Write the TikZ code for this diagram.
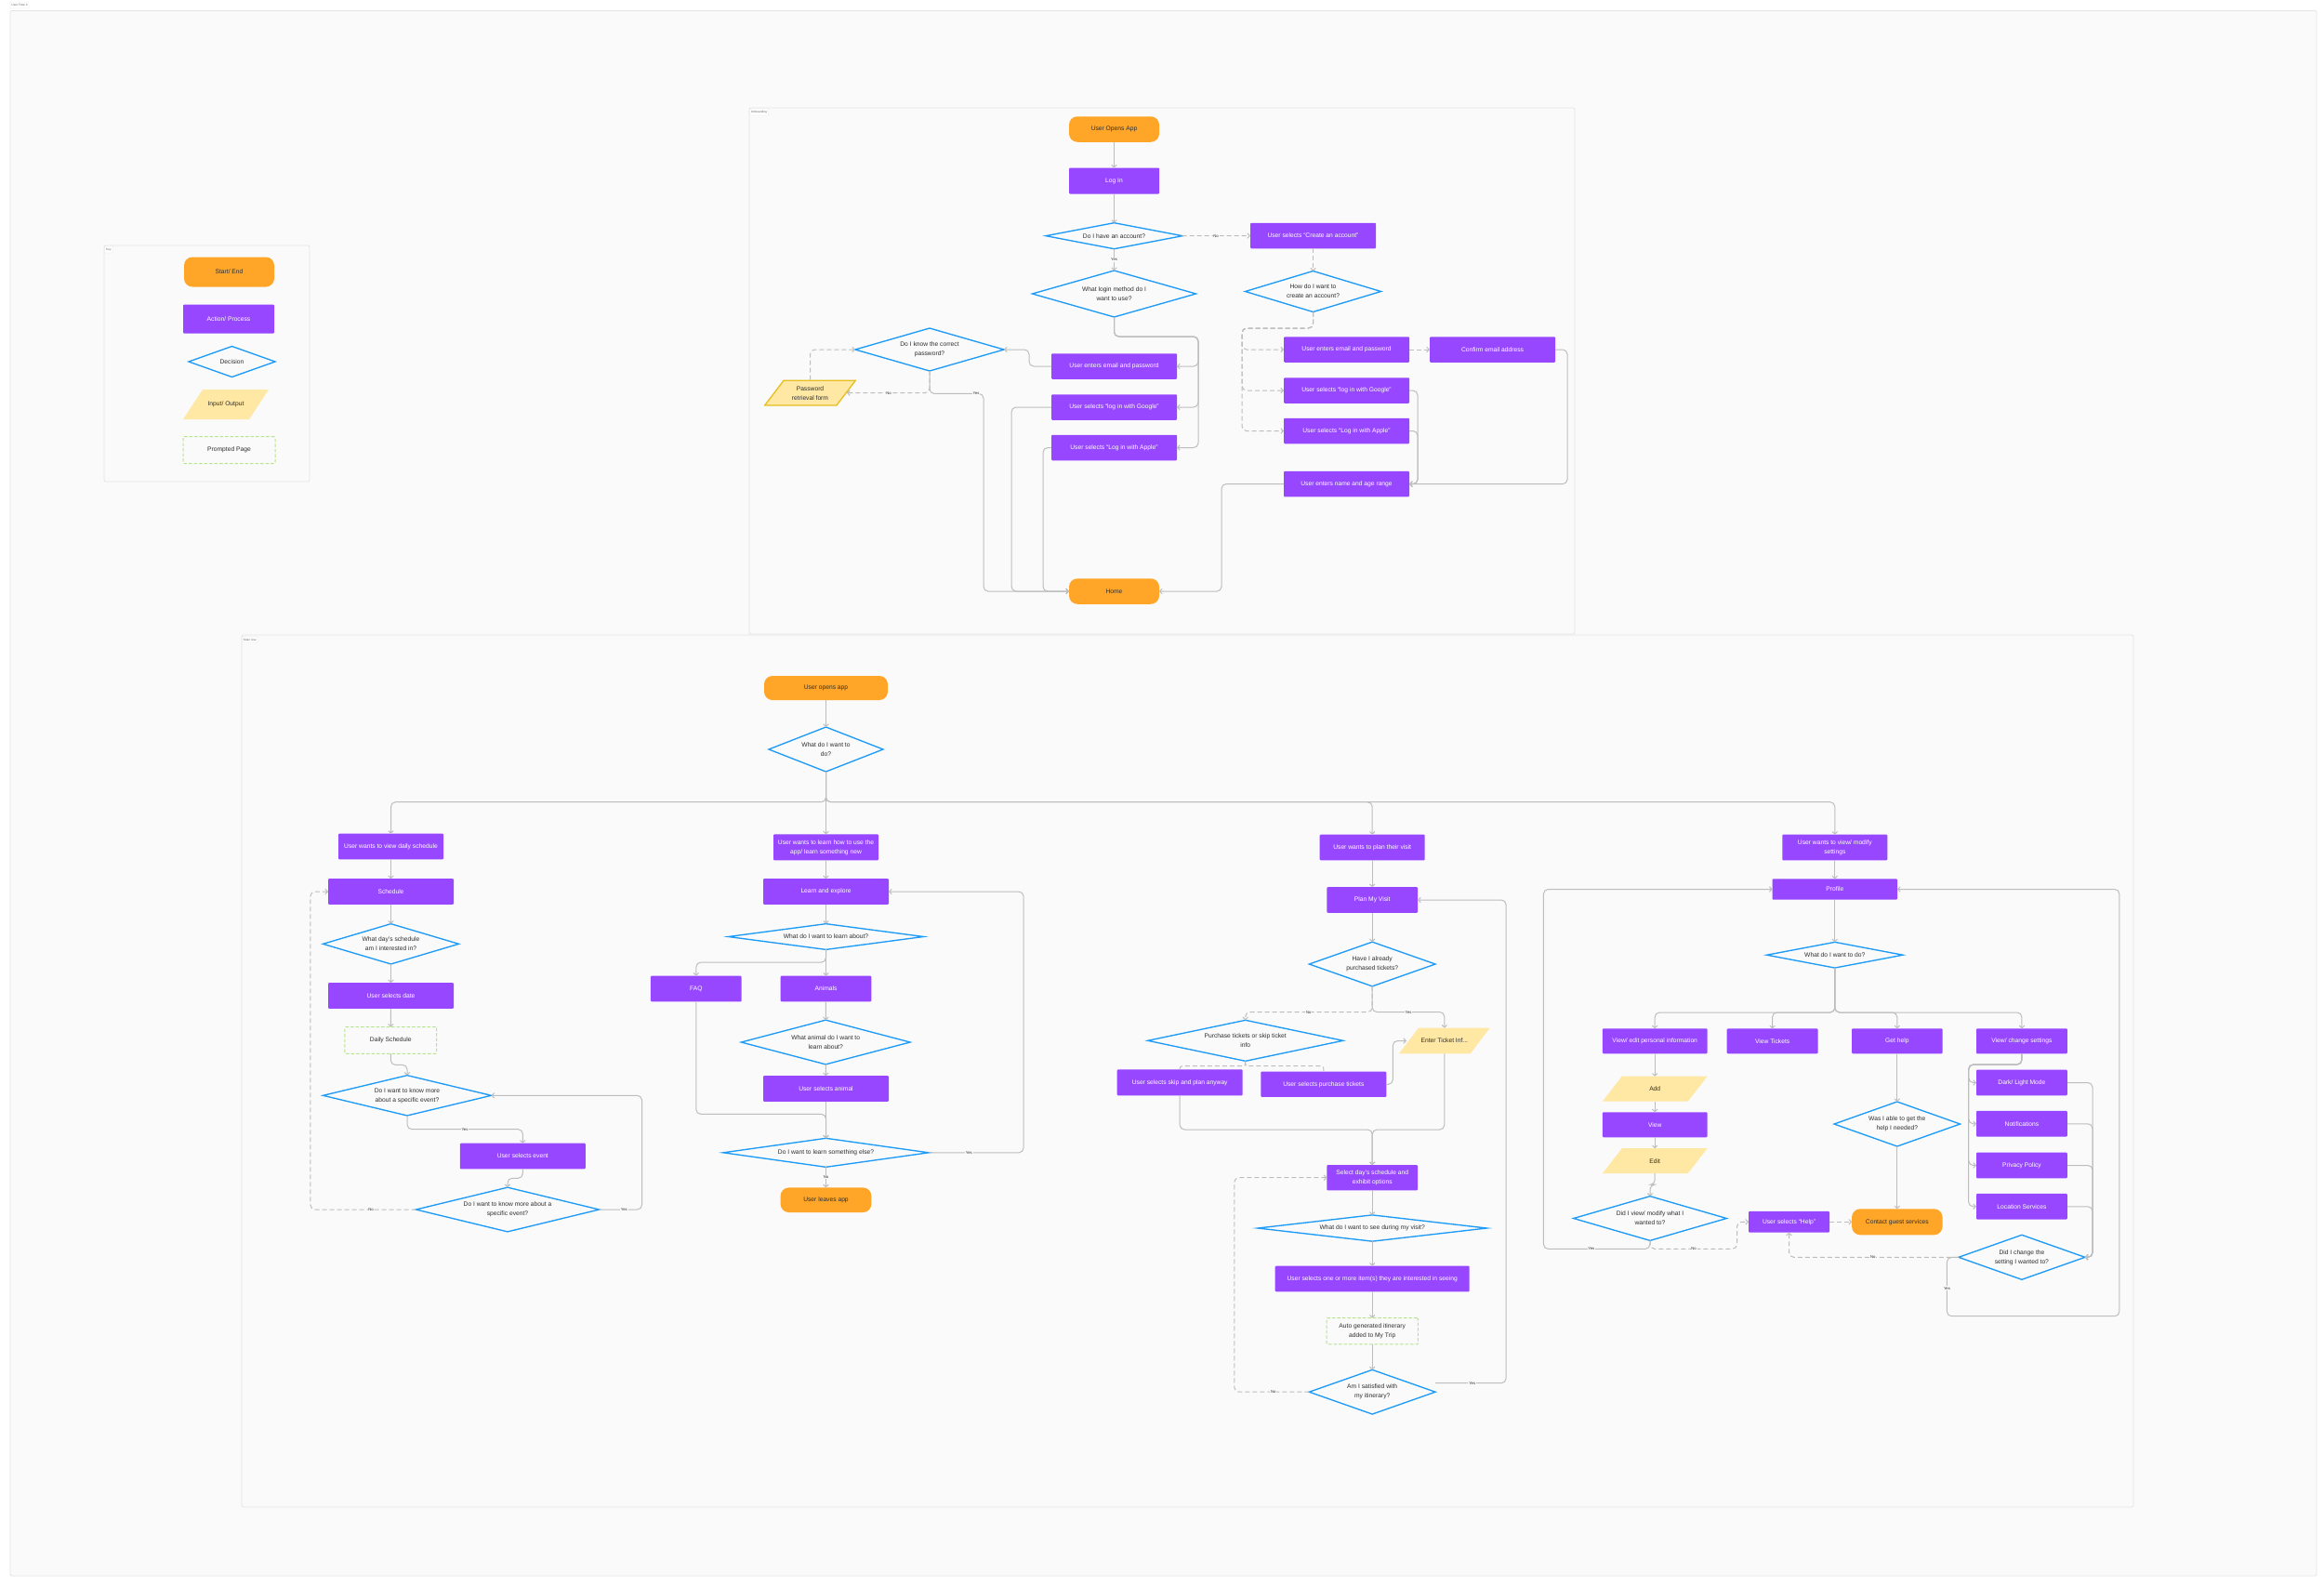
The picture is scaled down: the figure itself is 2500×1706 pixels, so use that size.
\documentclass[tikz,border=0pt]{standalone}
\usepackage{fontspec}
\setmainfont{Liberation Sans}
\usetikzlibrary{shapes.geometric,arrows.meta,calc}
\definecolor{orangeC}{HTML}{FFA629}
\definecolor{purpleC}{HTML}{9747FF}
\definecolor{blueC}{HTML}{1E9BF7}
\definecolor{ioC}{HTML}{FFE8A3}
\definecolor{ioB}{HTML}{E6BE1E}
\definecolor{greenC}{HTML}{B5E58C}
\definecolor{lineC}{HTML}{BDBDBD}
\definecolor{frameC}{HTML}{FAFAFA}
\definecolor{frameB}{HTML}{E4E4E4}
\definecolor{textC}{HTML}{2E2E2E}
\tikzset{
  base/.style={font=\fontsize{6.7}{10}\selectfont, align=center, inner sep=0pt, outer sep=0pt, text=textC},
  sz/.style 2 args={minimum width=#1, minimum height=#2},
  term/.style 2 args={base, sz={#1}{#2}, fill=orangeC, rounded corners=9pt},
  act/.style 2 args={base, sz={#1}{#2}, fill=purpleC, text=white, rounded corners=1pt},
  dec/.style n args={3}{base, diamond, draw=blueC, line width=1.35pt, sz={#1}{#2}, shape aspect=#3},
  io/.style 2 args={base, sz={#1}{#2}, path picture={\fill[ioC] ([xshift=21pt]path picture bounding box.north west) -- (path picture bounding box.north east) -- ([xshift=-21pt]path picture bounding box.south east) -- (path picture bounding box.south west) -- cycle;}},
  iob/.style 2 args={base, sz={#1}{#2}, path picture={\filldraw[fill=ioC, draw=ioB, line width=1.3pt] ([xshift=21pt,yshift=-0.7pt]path picture bounding box.north west) -- ([xshift=-0.7pt,yshift=-0.7pt]path picture bounding box.north east) -- ([xshift=-21pt,yshift=0.7pt]path picture bounding box.south east) -- ([xshift=0.7pt,yshift=0.7pt]path picture bounding box.south west) -- cycle;}},
  prm/.style 2 args={base, sz={#1}{#2}, draw=greenC, dash pattern=on 3.5pt off 2pt, line width=1pt, rounded corners=1pt},
  con/.style={draw=lineC, line width=1pt, rounded corners=5pt, -{Straight Barb[length=2.5pt,width=5.5pt]}},
  dcon/.style={con, dash pattern=on 5pt off 3pt},
  lbl/.style={font=\fontsize{4.2}{4.2}\selectfont, fill=frameC, inner sep=0.8pt, text=textC},
  frm/.style={draw=frameB, fill=frameC, line width=0.8pt, rounded corners=2pt},
  ftag/.style={draw=frameB, fill=white, font=\fontsize{3.2}{3.2}\selectfont, inner sep=0pt, text=black!60, rounded corners=0.5pt}
}
\begin{document}
\begin{tikzpicture}[x=1pt,y=-1pt]
\useasboundingbox (0,0) rectangle (2500,1706);
\fill[white] (0,0) rectangle (2500,1706);
% frames
\draw[frm] (11,11.4) rectangle (2492,1695);
\node[ftag, sz={20}{7}] (tagflow) at (21,5.5) {User Flow 3};
\draw[frm] (112,264) rectangle (333,518);
\node[ftag, sz={9}{7}] (tagkey) at (117,268.5) {Key};
\draw[frm] (806,116) rectangle (1694,682);
\node[ftag, sz={20}{7}] (tagon) at (816.5,120.5) {Onboarding};
\draw[frm] (260,683) rectangle (2295,1621);
\node[ftag, sz={16}{6}] (tagmain) at (269,688) {Main Use};

% ===== Key =====
\node[term={97}{32}] (kse) at (246.5,292.5) {Start/ End};
\node[act={98}{31}] (kap) at (246,343) {Action/ Process};
\node[dec={93}{33}{2.82}] (kd) at (249.5,389) {Decision};
\node[io={92}{32}] (kio) at (243,435) {Input/ Output};
\node[prm={99}{29}] (kpp) at (246.5,484) {Prompted Page};

% ===== Onboarding =====
\node[term={97}{27.5}] (uoa) at (1198.5,139) {User Opens App};
\node[act={97}{28}] (login) at (1198.5,194.5) {Log In};
\node[dec={147}{28}{5.25}] (acct) at (1198.5,253.7) {Do I have an account?};
\node[dec={176}{50}{3.52}] (meth) at (1198.5,316) {What login method do I\\want to use?};
\node[dec={160}{46}{3.48}] (pwd) at (1000,376) {Do I know the correct\\password?};
\node[iob={99}{28}] (pwf) at (871.5,422.6) {Password\\retrieval form};
\node[act={135}{27.5}] (lep) at (1198.5,394) {User enters email and password};
\node[act={135}{27.5}] (lgg) at (1198.5,438) {User selects “log in with Google”};
\node[act={135}{27.5}] (lap) at (1198.5,481.5) {User selects “Log in with Apple”};
\node[term={97}{27.5}] (home) at (1198.5,636) {Home};
\node[act={135}{27.5}] (cra) at (1412.5,253.5) {User selects “Create an account”};
\node[dec={146}{44}{3.32}] (how) at (1412.5,313.5) {How do I want to\\create an account?};
\node[act={135}{27.5}] (rep) at (1448.5,376) {User enters email and password};
\node[act={135}{27.5}] (rgg) at (1448.5,420) {User selects “log in with Google”};
\node[act={135}{27.5}] (rap) at (1448.5,463.5) {User selects “Log in with Apple”};
\node[act={135}{27.5}] (name) at (1448.5,520.6) {User enters name and age range};
\node[act={135}{27.5}] (conf) at (1605.5,376) {Confirm email address};

\coordinate (mb) at (1289,362);
\coordinate (hb) at (1336,353);
\draw[con] (uoa) -- (login);
\draw[con] (login) -- (acct);
\draw[con] (acct) -- (meth);
\node[lbl] (l1) at (1198.5,279.5) {Yes};
\draw[dcon] (acct) -- (cra);
\node[lbl] (l2) at (1308,253.7) {No};
\draw[con] (meth.south) |- (mb) |- (lep.east);
\draw[con] (meth.south) |- (mb) |- (lgg.east);
\draw[con] (meth.south) |- (mb) |- (lap.east);
\draw[con] (lep.west) -- ++(-24,0) |- (pwd.east);
\draw[dcon] (pwd.south) |- ([xshift=-10pt]pwf.east);
\node[lbl] (l3) at (956,422.6) {No};
\draw[con] (pwd.south) -- ++(0,24.4) -- ++(58,0) |- (home.west);
\node[lbl] (l4) at (1050,423.4) {Yes};
\draw[dcon] (pwf.north) |- (pwd.west);
\draw[con] (lgg.west) -- ++(-43,0) |- (home.west);
\draw[con] (lap.west) -- ++(-9,0) |- (home.west);
\draw[dcon] (cra) -- (how);
\draw[dcon] (how.south) |- (hb) |- (rep.west);
\draw[dcon] (how.south) |- (hb) |- (rgg.west);
\draw[dcon] (how.south) |- (hb) |- (rap.west);
\draw[dcon] (rep) -- (conf);
\draw[con] (conf.east) -- ++(13,0) |- (name.east);
\draw[con] (rgg.east) -- ++(9,0) |- (name.east);
\draw[con] (rap.east) -- ++(9,0) |- (name.east);
\draw[con] (name.west) -- ++(-67,0) |- (home.east);

% ===== Main =====
\node[term={133}{26}] (uoa2) at (888.5,740) {User opens app};
\node[dec={123}{48}{2.56}] (wdo) at (888.5,806) {What do I want to\\do?};
\node[act={113}{27.6}] (vds) at (420.5,910.5) {User wants to view daily schedule};
\node[act={113}{28}] (lrn) at (888.5,911.3) {User wants to learn how to use the\\app/ learn something new};
\node[act={113}{27.7}] (plan) at (1476.2,911.5) {User wants to plan their visit};
\node[act={113}{27.7}] (set) at (1973.8,911.5) {User wants to view/ modify\\settings};
\coordinate (bus) at (888.5,862.7);
\draw[con] (uoa2) -- (wdo);
\draw[con] (wdo.south) -- (bus) -| (vds.north);
\draw[con] (wdo.south) -- (lrn.north);
\draw[con] (wdo.south) -- (bus) -| (plan.north);
\draw[con] (wdo.south) -- (bus) -| (set.north);

% Schedule column
\node[act={135}{27.7}] (sch) at (420.5,959) {Schedule};
\node[dec={146}{43.3}{3.37}] (wday) at (420.5,1015.3) {What day’s schedule\\am I interested in?};
\node[act={135}{27.7}] (sdate) at (420.5,1071) {User selects date};
\node[prm={98.7}{28.7}] (dsch) at (420.3,1119) {Daily Schedule};
\node[dec={181}{43.3}{4.18}] (km1) at (438,1178.3) {Do I want to know more\\about a specific event?};
\node[act={135}{27.6}] (sev) at (562.3,1243.5) {User selects event};
\node[dec={197}{47.7}{4.13}] (km2) at (546,1301) {Do I want to know more about a\\specific event?};
\draw[con] (vds) -- (sch);
\draw[con] (sch) -- (wday);
\draw[con] (wday) -- (sdate);
\draw[con] (sdate) -- (dsch);
\draw[con] (dsch.south) -- ++(0,12) -| (km1.north);
\draw[con] (km1.south) -- ++(0,14.7) -| (sev.north);
\node[lbl] (l5) at (500,1214.7) {Yes};
\draw[con] (sev.south) -- ++(0,10) -| (km2.north);
\draw[con] (km2.east) -- ++(46,0) |- (km1.east);
\node[lbl] (l6) at (671.3,1301) {Yes};
\draw[dcon] (km2.west) -- ++(-113.6,0) |- (sch.west);
\node[lbl] (l7) at (399,1301) {No};

% Learn column
\node[act={135}{27.7}] (lex) at (888.5,959) {Learn and explore};
\node[dec={210}{27.7}{7.58}] (wlearn) at (888.5,1007.5) {What do I want to learn about?};
\node[act={97.7}{27.7}] (faq) at (748.8,1063.5) {FAQ};
\node[act={97.7}{27.7}] (anim) at (888.5,1063.5) {Animals};
\node[dec={181.7}{47.7}{3.81}] (wanim) at (888.2,1121) {What animal do I want to\\learn about?};
\node[act={135}{27.7}] (sanim) at (888.5,1171) {User selects animal};
\node[dec={221}{31}{7.13}] (welse) at (888.5,1239.8) {Do I want to learn something else?};
\node[term={97.7}{26.7}] (leave) at (888.5,1290.7) {User leaves app};
\draw[con] (lrn) -- (lex);
\draw[con] (lex) -- (wlearn);
\draw[con] (wlearn) -- (anim);
\draw[con] (wlearn.south) -- ++(0,13.7) -| (faq.north);
\draw[con] (anim) -- (wanim);
\draw[con] (wanim) -- (sanim);
\draw[con] (sanim) -- (welse);
\draw[con] (faq.south) -- ++(0,121) -| (welse.north);
\draw[con] (welse) -- (leave);
\node[lbl] (l8) at (888.5,1266) {No};
\draw[con] (welse.east) -- ++(102,0) |- (lex.east);
\node[lbl] (l9) at (1042.3,1239.8) {Yes};

% Plan column
\node[act={97.7}{27.7}] (pmv) at (1476.2,968) {Plan My Visit};
\node[dec={135.7}{47.7}{2.84}] (hat) at (1476.2,1037) {Have I already\\purchased tickets?};
\node[dec={210}{44}{4.77}] (pts) at (1339.7,1119.3) {Purchase tickets or skip ticket\\info};
\node[io={97.7}{27.7}] (eti) at (1553.8,1119.5) {Enter Ticket Inf...};
\node[act={135}{28}] (skip) at (1269.2,1164.3) {User selects skip and plan anyway};
\node[act={135}{27.3}] (ptk) at (1423.8,1166.3) {User selects purchase tickets};
\node[act={97.7}{27.3}] (sds) at (1476.2,1266.7) {Select day’s schedule and\\exhibit options};
\node[dec={246.3}{28.3}{8.7}] (wsee) at (1476.2,1321) {What do I want to see during my visit?};
\node[act={209}{27.7}] (sel) at (1476.2,1375.5) {User selects one or more item(s) they are interested in seeing};
\node[prm={98.3}{28.3}] (auto) at (1476.2,1431.8) {Auto generated itinerary\\added to My Trip};
\node[dec={135.7}{47.7}{2.84}] (sat) at (1476.2,1497.2) {Am I satisfied with\\my itinerary?};
\coordinate (pj) at (1476.2,1215);
\draw[con] (plan) -- (pmv);
\draw[con] (pmv) -- (hat);
\draw[con] (hat.south) -- ++(0,27.7) -| (eti.north);
\node[lbl] (l10) at (1515,1088.7) {Yes};
\draw[dcon] (hat.south) -- ++(0,27.7) -| (pts.north);
\node[lbl] (l11) at (1407.7,1088.7) {No};
\draw[dcon, rounded corners=2.5pt, -] (pts.south) -- ++(0,5.4) -| (skip.north);
\draw[dcon, rounded corners=2.5pt, -] (pts.south) -- ++(0,5.4) -| (ptk.north);
\draw[con] (ptk.east) -- ++(7,0) |- ([xshift=8pt]eti.west);
\draw[con] (skip.south) |- (pj) -- (sds.north);
\draw[con] (eti.south) |- (pj) -- (sds.north);
\draw[con] (sds) -- (wsee);
\draw[con] (wsee) -- (sel);
\draw[con] (sel) -- (auto);
\draw[con] (auto) -- (sat);
\draw[dcon] (sat.west) -- ++(-80.6,0) |- (sds.west);
\node[lbl] (l12) at (1369.7,1497.2) {No};
\draw[con] ([yshift=9.5pt]sat.east) -- ++(76,0) |- (pmv.east);
\node[lbl] (l13) at (1583.7,1487.7) {Yes};

% Profile column
\node[act={134.4}{22.3}] (prof) at (1973.8,956.5) {Profile};
\node[dec={146.4}{27.7}{5.29}] (pwd2) at (1973.8,1027.2) {What do I want to do?};
\node[act={112.8}{27}] (vep) at (1780.2,1119.8) {View/ edit personal information};
\node[act={97.8}{27}] (vt) at (1906.6,1119.8) {View Tickets};
\node[act={97.5}{27}] (gh) at (2040.8,1119.8) {Get help};
\node[act={97.8}{27}] (vcs) at (2174.9,1119.8) {View/ change settings};
\node[io={112.8}{27}] (add) at (1780.2,1171.2) {Add};
\node[act={112.8}{27}] (view) at (1780.2,1209.8) {View};
\node[io={112.8}{27}] (edit) at (1780.2,1248.7) {Edit};
\node[dec={164.6}{47.7}{3.45}] (divm) at (1775,1310.5) {Did I view/ modify what I\\wanted to?};
\node[act={87}{22.7}] (help) at (1924.5,1314.3) {User selects “Help”};
\node[term={97.5}{28}] (cgs) at (2040.8,1314.3) {Contact guest services};
\node[dec={135.5}{48}{2.82}] (wia) at (2040.8,1209) {Was I able to get the\\help I needed?};
\node[act={97.8}{27.7}] (dlm) at (2174.9,1164.5) {Dark/ Light Mode};
\node[act={97.8}{27.7}] (ntf) at (2174.9,1208.8) {Notifications};
\node[act={97.8}{27.7}] (pp) at (2174.9,1253.5) {Privacy Policy};
\node[act={97.8}{27.7}] (ls) at (2174.9,1297.8) {Location Services};
\node[dec={136}{48}{2.83}] (dic) at (2174.9,1352.3) {Did I change the\\setting I wanted to?};
\coordinate (pbus) at (1973.8,1089);
\coordinate (sbus) at (2117.7,1145);
\coordinate (rb) at (2279.8,1415.7);
\draw[con] (set) -- (prof);
\draw[con] (prof) -- (pwd2);
\draw[con] (pwd2.south) -- (pbus) -| (vep.north);
\draw[con] (pwd2.south) -- (pbus) -| (vt.north);
\draw[con] (pwd2.south) -- (pbus) -| (gh.north);
\draw[con] (pwd2.south) -- (pbus) -| (vcs.north);
\draw[con] (vep) -- (add);
\draw[con] (add) -- (view);
\draw[con] (view) -- (edit);
\draw[con] (edit.south) -- ++(0,12) -| (divm.north);
\draw[con] (gh) -- (wia);
\draw[con] (wia) -- (cgs);
\draw[con] (vcs.south) |- (sbus) |- (dlm.west);
\draw[con] (vcs.south) |- (sbus) |- (ntf.west);
\draw[con] (vcs.south) |- (sbus) |- (pp.west);
\draw[con] (vcs.south) |- (sbus) |- (ls.west);
\draw[con] (dlm.east) -- ++(27.2,0) |- (dic.east);
\draw[con] (ntf.east) -- ++(27.2,0) |- (dic.east);
\draw[con] (pp.east) -- ++(27.2,0) |- (dic.east);
\draw[con] (ls.east) -- ++(27.2,0) |- (dic.east);
\draw[con] (divm.south) -- ++(0,9) -- ++(-114.6,0) |- (prof.west);
\node[lbl] (l14) at (1711.8,1343.3) {Yes};
\draw[dcon] (divm.south) -- ++(0,9) -- ++(93.5,0) |- (help.west);
\node[lbl] (l15) at (1822,1343.3) {No};
\draw[dcon] (help) -- (cgs);
\draw[dcon] (dic.west) -| (help.south);
\node[lbl] (l16) at (2014.8,1352.3) {No};
\draw[con] (dic.west) -- ++(-12.5,0) |- (rb) |- (prof.east);
\node[lbl] (l17) at (2094.4,1385.7) {Yes};
\end{tikzpicture}
\end{document}
